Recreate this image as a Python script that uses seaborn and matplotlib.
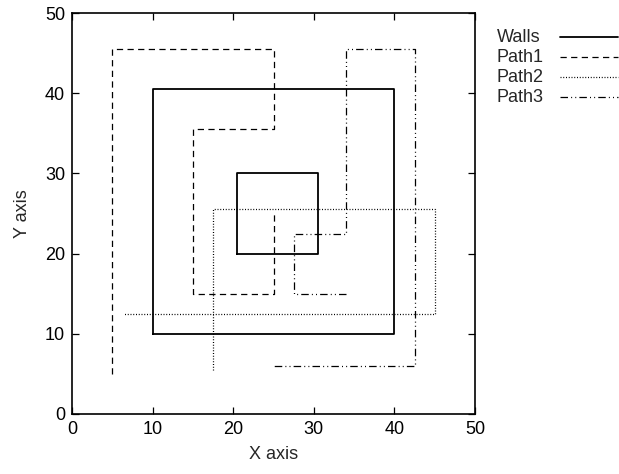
import matplotlib
matplotlib.use("Agg")
import matplotlib.pyplot as plt
import seaborn as sns
import pandas as pd
from matplotlib.lines import Line2D

# Data
wall_outer_x = [10, 40, 40, 10, 10]
wall_outer_y = [10, 10, 40.5, 40.5, 10]
wall_inner_x = [20.5, 30.5, 30.5, 20.5, 20.5]
wall_inner_y = [20, 20, 30, 30, 20]
path1_x = [5, 5, 25, 25, 15, 15, 25, 25]
path1_y = [5, 45.5, 45.5, 35.5, 35.5, 15, 15, 25]
path2_x = [17.5, 17.5, 45, 45, 6.5]
path2_y = [5.5, 25.5, 25.5, 12.5, 12.5]
path3_x = [34, 27.5, 27.5, 34, 34, 42.5, 42.5, 25]
path3_y = [15, 15, 22.5, 22.5, 45.5, 45.5, 6, 6]
xticks = [0, 10, 20, 30, 40, 50]
yticks = [0, 10, 20, 30, 40, 50]
legend_labels = ["Walls", "Path1", "Path2", "Path3"]

sns.set_theme(style="ticks")
plt.rcParams['font.family'] = ['Liberation Sans', 'DejaVu Sans']

W, H = 619, 474
fig = plt.figure(figsize=(W/100, H/100), dpi=100)
ax = fig.add_axes([72/W, 1-414/H, (475-72)/W, (414-13)/H])

def seg(x, y, lbl, unit):
    return pd.DataFrame({"x": x, "y": y, "name": lbl, "unit": unit})

walls = pd.concat([seg(wall_outer_x, wall_outer_y, "Walls", 0),
                   seg(wall_inner_x, wall_inner_y, "Walls", 1)])
sns.lineplot(data=walls, x="x", y="y", units="unit", estimator=None, sort=False,
             color="black", lw=1.3, ax=ax)

wall_style = {"lw": 1.3, "linestyle": "-"}
styles = {
    "Path1": (0, (5, 3.5)),
    "Path2": (0, (0.8, 1.4)),
    "Path3": (0, (6, 2.5, 0.8, 2.5, 0.8, 2.5)),
}
for name, (px, py) in {"Path1": (path1_x, path1_y),
                       "Path2": (path2_x, path2_y),
                       "Path3": (path3_x, path3_y)}.items():
    d = seg(px, py, name, 0)
    sns.lineplot(data=d, x="x", y="y", estimator=None, sort=False, color="black",
                 lw=0.9, linestyle=styles[name], ax=ax)

ax.set_xlim(0, 50)
ax.set_ylim(0, 50)
ax.set_xticks(xticks)
ax.set_yticks(yticks)
ax.tick_params(direction="in", top=True, right=True, length=5.3, width=0.9,
               labelsize=13, colors="black", pad=5)
for s in ax.spines.values():
    s.set_linewidth(1.2)
    s.set_color("black")
ax.set_xlabel("X axis", fontsize=13, labelpad=6)
ax.set_ylabel("Y axis", fontsize=13, labelpad=10)

# legend, gnuplot-like: text left, sample on the right
row_y = [37, 57, 77, 97]
for i, lbl in enumerate(legend_labels):
    yy = 1 - row_y[i]/H
    fig.text(497/W, yy, lbl, fontsize=13, ha="left", va="center")
    if lbl == "Walls":
        ln = Line2D([560/W, 618/W], [yy, yy], transform=fig.transFigure,
                    color="black", lw=1.3)
    else:
        ln = Line2D([560/W, 618/W], [yy, yy], transform=fig.transFigure,
                    color="black", lw=0.9, linestyle=styles[lbl])
    fig.add_artist(ln)

fig.savefig("out.png", dpi=100)
